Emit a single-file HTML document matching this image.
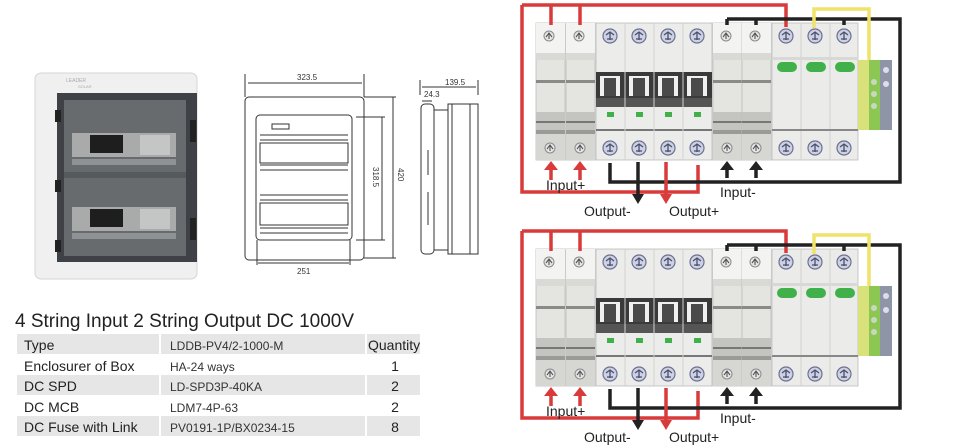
<!DOCTYPE html>
<html><head><meta charset="utf-8"><style>
html,body{margin:0;padding:0;background:#fff;}
svg{display:block;font-family:"Liberation Sans",sans-serif;}
</style></head><body>
<svg width="956" height="448" viewBox="0 0 956 448" xmlns="http://www.w3.org/2000/svg">
<defs>
<g id="scr"><circle r="7" fill="#cdd1e3" stroke="#6b7090" stroke-width="1.2"/><path d="M-4 -1 L0 -4 L4 -1 M0 -4 V4 M-3 3 L3 3" stroke="#4a4f6a" stroke-width="1.3" fill="none"/></g>
<g id="scs"><circle r="5" fill="#e6e6e6" stroke="#8a8a8a" stroke-width="1"/><path d="M-3 1 L0 -3 L3 1 M0 -3 V3" stroke="#555" stroke-width="1.1" fill="none"/></g>
<g id="fuse">
<rect x="0" y="23" width="29" height="137" fill="#e4e4e1" stroke="#bdbdba" stroke-width="0.8"/>
<rect x="0" y="23" width="29" height="30" fill="#f3f3f1"/>
<rect x="0" y="53" width="29" height="7" fill="#d9d9d5"/>
<rect x="0" y="80" width="29" height="3" fill="#8a8a88"/>
<rect x="0" y="112" width="29" height="18" fill="#c4c4c1"/>
<rect x="0" y="121" width="29" height="2" fill="#777"/>
<rect x="0" y="130" width="29" height="4" fill="#9a9a98"/>
<rect x="0" y="134" width="29" height="26" fill="#d6d6d3"/>
<use href="#scs" x="13" y="36"/><use href="#scs" x="14" y="148"/>
</g>
<g id="mcb">
<rect x="596" y="23" width="116" height="137" fill="#ececea" stroke="#bbb" stroke-width="0.8"/>
<rect x="596" y="72" width="116" height="35" fill="#3a3a3a"/>
<rect x="600" y="76" width="20" height="20" fill="#f0f0f0"/><rect x="629" y="76" width="20" height="20" fill="#f0f0f0"/><rect x="658" y="76" width="20" height="20" fill="#f0f0f0"/><rect x="687" y="76" width="20" height="20" fill="#f0f0f0"/>
<rect x="604" y="78" width="12" height="18" fill="#4a4a4a"/><rect x="633" y="78" width="12" height="18" fill="#4a4a4a"/><rect x="662" y="78" width="12" height="18" fill="#4a4a4a"/><rect x="691" y="78" width="12" height="18" fill="#4a4a4a"/>
<rect x="596" y="98" width="116" height="9" fill="#555"/>
<rect x="607" y="112" width="7" height="5" fill="#3fb04a"/><rect x="636" y="112" width="7" height="5" fill="#3fb04a"/><rect x="665" y="112" width="7" height="5" fill="#3fb04a"/><rect x="694" y="112" width="7" height="5" fill="#3fb04a"/>
<rect x="596" y="129" width="116" height="2" fill="#777"/>
<path d="M625 23V160M654 23V160M683 23V160" stroke="#d2d2d0" stroke-width="1"/>
<use href="#scr" x="610" y="36"/><use href="#scr" x="639" y="36"/><use href="#scr" x="668" y="36"/><use href="#scr" x="697" y="36"/>
<use href="#scr" x="610" y="148"/><use href="#scr" x="639" y="148"/><use href="#scr" x="668" y="148"/><use href="#scr" x="697" y="148"/>
</g>
<g id="spd">
<rect x="772" y="23" width="86" height="137" fill="#ebebe9" stroke="#bbb" stroke-width="0.8"/>
<path d="M801 23V160M830 23V160" stroke="#d0d0ce"/>
<rect x="772" y="57" width="86" height="3" fill="#d8d8d5"/>
<rect x="777" y="62" width="20" height="10" rx="5" fill="#3fb04a"/><rect x="806" y="62" width="20" height="10" rx="5" fill="#3fb04a"/><rect x="835" y="62" width="20" height="10" rx="5" fill="#3fb04a"/>
<rect x="772" y="129" width="86" height="2" fill="#888"/>
<use href="#scr" x="786" y="36"/><use href="#scr" x="815" y="36"/><use href="#scr" x="844" y="36"/>
<use href="#scr" x="786" y="148"/><use href="#scr" x="815" y="148"/><use href="#scr" x="844" y="148"/>
<rect x="858" y="60" width="11" height="70" fill="#d9e27a"/><rect x="869" y="60" width="11" height="70" fill="#8cc653"/><rect x="880" y="60" width="12" height="70" fill="#8d95a6"/>
<circle cx="874" cy="82" r="3" fill="#c8d8c0"/><circle cx="874" cy="94" r="3" fill="#c8d8c0"/><circle cx="874" cy="106" r="3" fill="#c8d8c0"/>
<circle cx="886" cy="70" r="3" fill="#dde"/><circle cx="886" cy="84" r="3" fill="#dde"/>
</g>
<g id="diag">
<use href="#fuse" x="536"/><use href="#fuse" x="566"/><use href="#fuse" x="713"/><use href="#fuse" x="742"/>
<use href="#mcb"/><use href="#spd"/>
<g fill="none" stroke-width="3.5">
<path d="M551 25V5M580 25V5M522 5H786V27M522 5V192H698V165" stroke="#d93a3a"/>
<path d="M727 25V19M756 25V19M844 25V19M727 19H900V182H610V163" stroke="#222"/>
<path d="M814 28V9H869V60" stroke="#efe36a"/>
<path d="M638 162V195" stroke="#222"/><path d="M666 162V195" stroke="#d93a3a"/>
<path d="M551 180V168M580 180V168" stroke="#d93a3a"/>
<path d="M727 178V168M756 178V168" stroke="#222"/>
</g>
<path d="M544 170L551 161L558 170ZM573 170L580 161L587 170Z" fill="#d93a3a"/>
<path d="M720 170L727 161L734 170ZM749 170L756 161L763 170Z" fill="#222"/>
<path d="M632 194L638 204L644 194Z" fill="#222"/><path d="M660 194L666 204L672 194Z" fill="#d93a3a"/>
</g>
<g id="row">
<rect x="72" y="0" width="104" height="24" fill="#a9abab"/>
<rect x="90" y="2" width="33" height="18" fill="#1e1e1e"/>
<rect x="140" y="2" width="30" height="20" fill="#c4c6c6"/>
<rect x="72" y="26" width="104" height="6" fill="#8e9294"/>
</g>
</defs>

<!-- enclosure photo -->
<rect x="35" y="73" width="162" height="206" rx="6" fill="#f0f0f0" stroke="#d6d6d6"/>
<rect x="57" y="93" width="140" height="169" fill="#3e4246"/>
<rect x="64" y="100" width="122" height="156" fill="#676b6e"/>
<rect x="64" y="172" width="122" height="6" fill="#555a5d"/>
<use href="#row" y="133"/>
<use href="#row" y="207"/>
<rect x="55" y="110" width="6" height="12" fill="#222"/><rect x="55" y="180" width="6" height="12" fill="#222"/><rect x="55" y="240" width="6" height="12" fill="#222"/>
<rect x="190" y="120" width="6" height="22" fill="#222"/><rect x="190" y="218" width="6" height="22" fill="#222"/>
<text x="66" y="82" font-size="5" fill="#aaa">LEADER</text><text x="78" y="88" font-size="4" fill="#aaa">SOLAR</text>

<!-- front drawing -->
<g fill="none" stroke="#333" stroke-width="1">
<path d="M245 74V97M364 74V97M248 83H362"/>
<rect x="245" y="97" width="119" height="163" rx="4"/>
<rect x="256" y="115" width="96" height="125" rx="4"/>
<rect x="272" y="124" width="17" height="5"/>
<path d="M260 135H348M260 140H348M260 165H348M260 170H348M260 195H348M260 200H348M260 228H348M260 233H348"/>
<rect x="260" y="143" width="88" height="20"/><rect x="260" y="203" width="88" height="22"/>
<path d="M356 117H385M356 240H385M382 117V240M364 97H396M364 258H396M393 97V258M257 240V265M350 240V265M258 263H349"/>
<path d="M420 80V95M478 80V95M422 87H476M422 101H432"/>
<rect x="421" y="104" width="13" height="150" rx="4"/><rect x="448" y="104" width="30" height="150"/>
<path d="M434 110H448M434 250H448M452 104V254M470 104V254M428 150V175M428 192V225"/>
</g>
<g font-size="8" fill="#333">
<text x="297" y="80">323.5</text><text x="297" y="274">251</text>
<text x="445" y="85">139.5</text><text x="424" y="97">24.3</text>
<text transform="translate(373,167) rotate(90)">318.5</text>
<text transform="translate(398,168) rotate(90)">420</text>
</g>

<!-- title and table -->
<text x="15" y="327" font-size="19" fill="#222">4 String Input 2 String Output DC 1000V</text>
<rect x="17" y="334" width="403" height="20" fill="#e6e6e6"/>
<rect x="17" y="375" width="403" height="20" fill="#e6e6e6"/>
<rect x="17" y="416" width="403" height="20" fill="#e6e6e6"/>
<path d="M160 334V436M366 334V436" stroke="#fff" stroke-width="2"/>
<g font-size="14" fill="#222">
<text x="24" y="350">Type</text><text x="24" y="371">Enclosurer of Box</text><text x="24" y="391">DC SPD</text><text x="24" y="412">DC MCB</text><text x="24" y="432">DC Fuse with Link</text>
<text x="368" y="350">Quantity</text>
</g>
<g font-size="12" fill="#333">
<text x="170" y="350">LDDB-PV4/2-1000-M</text><text x="170" y="371">HA-24 ways</text><text x="170" y="391">LD-SPD3P-40KA</text><text x="170" y="412">LDM7-4P-63</text><text x="170" y="432">PV0191-1P/BX0234-15</text>
</g>
<g font-size="14" fill="#222" text-anchor="middle">
<text x="395" y="371">1</text><text x="395" y="391">2</text><text x="395" y="412">2</text><text x="395" y="432">8</text>
</g>

<!-- wiring diagrams -->
<use href="#diag"/>
<use href="#diag" y="226"/>
<g font-size="14" fill="#222">
<text x="546" y="190">Input+</text><text x="720" y="197">Input-</text>
<text x="584" y="216">Output-</text><text x="669" y="216">Output+</text>
<text x="546" y="416">Input+</text><text x="720" y="423">Input-</text>
<text x="584" y="442">Output-</text><text x="669" y="442">Output+</text>
</g>
</svg>
</body></html>
